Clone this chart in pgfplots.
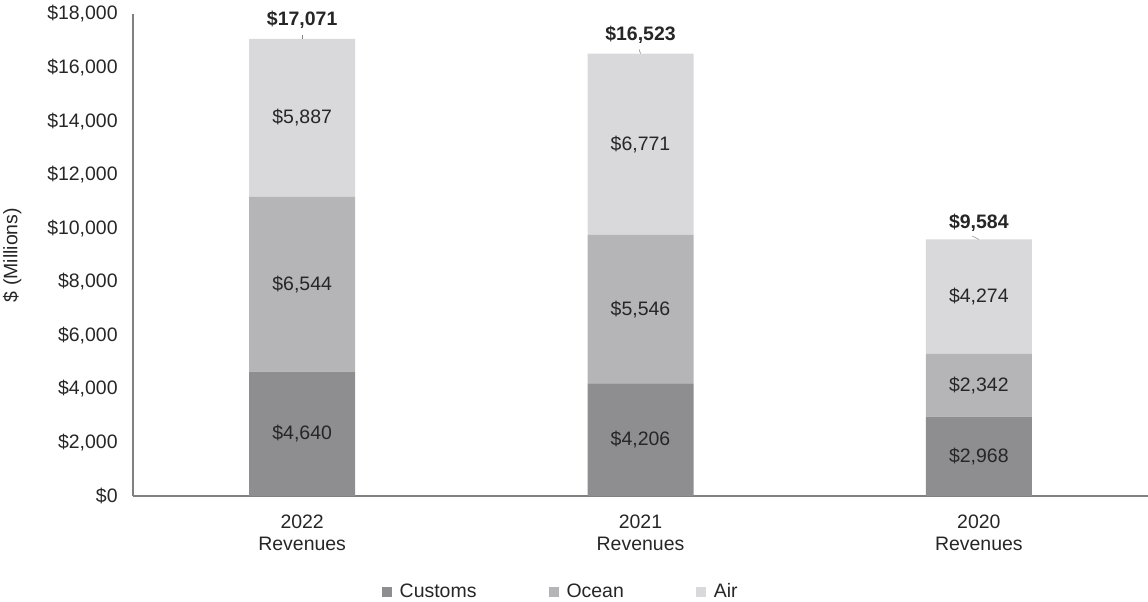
\documentclass[border=0pt]{standalone}
\usepackage{pgfplots}
\pgfplotsset{compat=1.18}
\usepackage{fontspec}
\setmainfont{Liberation Sans}

\definecolor{customs}{HTML}{8E8E90}
\definecolor{ocean}{HTML}{B5B5B7}
\definecolor{air}{HTML}{D9D9DB}
\definecolor{axisgray}{HTML}{808080}
\definecolor{txt}{HTML}{262626}

\begin{document}
\begin{tikzpicture}
\path[use as bounding box] (-99.75pt,-79.5pt) rectangle (761.25pt,372pt);
\begin{axis}[
  at={(0,0)}, anchor=south west,
  scale only axis,
  width=761.25pt, height=361.5pt,
  ybar stacked,
  bar width=79.5pt,
  xmin=-0.5, xmax=2.5,
  ymin=0, ymax=18000,
  xtick={0,1,2},
  xticklabels={2022\\Revenues, 2021\\Revenues, 2020\\Revenues},
  x tick label style={align=center, font=\fontsize{14.6}{16.5}\selectfont, text=txt, yshift=-10.5pt},
  ytick={0,2000,4000,6000,8000,10000,12000,14000,16000,18000},
  yticklabels={\$0,{\$2,000},{\$4,000},{\$6,000},{\$8,000},{\$10,000},{\$12,000},{\$14,000},{\$16,000},{\$18,000}},
  y tick label style={font=\fontsize{14.6}{16}\selectfont, text=txt, xshift=-8pt},
  scaled y ticks=false,
  ylabel={\$ (Millions)},
  ylabel shift=12.5pt,
  ylabel style={font=\fontsize{14.6}{16}\selectfont, text=txt},
  axis x line*=bottom, axis y line*=left,
  axis line style={axisgray, line width=0.9pt, -},
  major tick length=0pt,
  tick style={draw=none},
  legend columns=3,
  legend style={at={(0.4217,-0.199)}, anchor=center, draw=none,
    font=\fontsize{14.6}{16}\selectfont, text=txt,
    /tikz/every odd column/.append style={column sep=4pt},
    /tikz/every even column/.append style={column sep=52pt}},
  legend image code/.code={\fill[#1] (0pt,-3.8pt) rectangle (7.5pt,3.7pt);},
  clip=false,
]
\addplot+[fill=customs, draw=none] coordinates {(0,4640) (1,4206) (2,2968)};
\addlegendentry{Customs}
\addplot+[fill=ocean, draw=none] coordinates {(0,6544) (1,5546) (2,2342)};
\addlegendentry{Ocean}
\addplot+[fill=air, draw=none] coordinates {(0,5887) (1,6771) (2,4274)};
\addlegendentry{Air}

% anchor points for labels (segment midpoints and totals)
\coordinate (c0) at (axis cs:0,2320);
\coordinate (o0) at (axis cs:0,7912);
\coordinate (a0) at (axis cs:0,14128);
\coordinate (c1) at (axis cs:1,2103);
\coordinate (o1) at (axis cs:1,6979);
\coordinate (a1) at (axis cs:1,13138);
\coordinate (c2) at (axis cs:2,1484);
\coordinate (o2) at (axis cs:2,4139);
\coordinate (a2) at (axis cs:2,7447);
\coordinate (t0) at (axis cs:0,17071);
\coordinate (t1) at (axis cs:1,16523);
\coordinate (t2) at (axis cs:2,9584);
\end{axis}

\begin{scope}[every node/.style={font=\fontsize{14.6}{16}\selectfont, text=txt}]
\node at (c0) {\$4,640};
\node at (o0) {\$6,544};
\node at (a0) {\$5,887};
\node at (c1) {\$4,206};
\node at (o1) {\$5,546};
\node at (a1) {\$6,771};
\node at (c2) {\$2,968};
\node at (o2) {\$2,342};
\node at (a2) {\$4,274};
\end{scope}
\begin{scope}[every node/.style={font=\bfseries\fontsize{14.6}{16}\selectfont, text=txt, anchor=south}]
\node at ([yshift=4pt]t0) {\$17,071};
\node at ([yshift=4pt]t1) {\$16,523};
\node at ([yshift=2pt]t2) {\$9,584};
\end{scope}
\draw[axisgray, line width=0.4pt] (t0) -- ++(0pt,3pt);
\draw[axisgray, line width=0.4pt] (t1) -- ++(-1pt,3pt);
\draw[axisgray, line width=0.4pt] (t2) -- ++(-5pt,2.5pt);
\end{tikzpicture}
\end{document}
